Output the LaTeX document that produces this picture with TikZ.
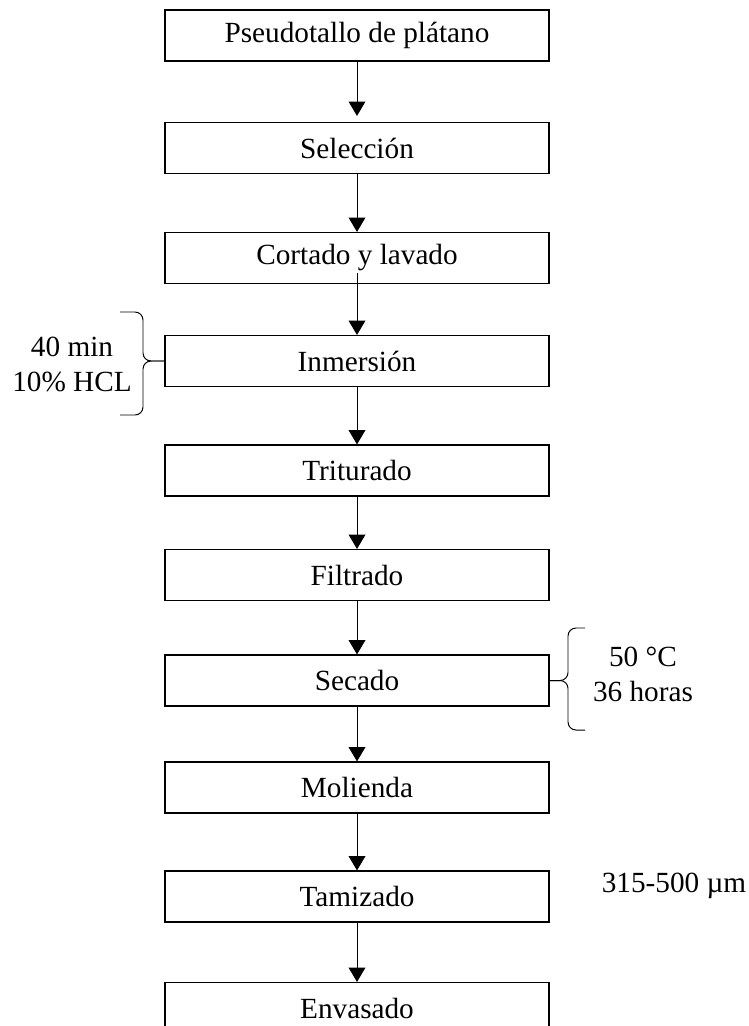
\documentclass[tikz,border=0pt]{standalone}
\usepackage{fontspec}
\setmainfont{Liberation Serif}
\usetikzlibrary{arrows.meta}

\tikzset{
  paso/.style={draw, line width=0.8pt, minimum width=9.6cm, minimum height=1.275cm, inner sep=0pt},
  flecha/.style={line width=0.7pt, -{Triangle[length=0.36cm,width=0.42cm]}},
  llave/.style={line width=0.7pt, rounded corners=0.2cm}
}

\begin{document}
\begin{tikzpicture}[x=0.025cm, y=-0.025cm, font=\fontsize{20.8}{24.9}\selectfont]
    \useasboundingbox (0,0) rectangle (749,1026);
    % etapas del proceso
    \node[paso] (pseudo) at (357,35.5)  {Pseudotallo de plátano};
    \node[paso] (sel)    at (357,148)   {Selección};
    \node[paso] (cort)   at (357,258)   {Cortado y lavado};
    \node[paso] (inm)    at (357,361)   {Inmersión};
    \node[paso] (trit)   at (357,470.5) {Triturado};
    \node[paso] (filt)   at (357,575)   {Filtrado};
    \node[paso] (sec)    at (357,680.5) {Secado};
    \node[paso] (mol)    at (357,787.5) {Molienda};
    \node[paso] (tam)    at (357,896.5) {Tamizado};
    \node[paso] (env)    at (357,1008)  {Envasado};
    % flechas
    \draw[flecha, shorten >=0.15cm] (pseudo) -- (sel);
    \draw[flecha] (sel) -- (cort);
    \draw[flecha] ([yshift=0.275cm]cort.south) -- (inm);
    \draw[flecha] (inm) -- (trit);
    \draw[flecha] (trit) -- (filt);
    \draw[flecha] (filt) -- (sec);
    \draw[flecha] (sec) -- (mol);
    \draw[flecha] (mol) -- (tam);
    \draw[flecha] (tam) -- (env);
    % condiciones
    \coordinate (pinm) at (inm.west);
    \draw[llave] (120,312) -- (143,312) -- (143,|-pinm) -- (pinm);
    \draw[llave] (120,415) -- (143,415) -- (143,|-pinm) -- (pinm);
    \node[align=center] (cinm) at (72,364) {40 min\\10\% HCL};
    \coordinate (psec) at (sec.east);
    \draw[llave] (585,628) -- (568,628) -- (568,|-psec) -- (psec);
    \draw[llave] (585,730) -- (568,730) -- (568,|-psec) -- (psec);
    \node[align=center] (csec) at (643,674) {50 °C\\36 horas};
    \node[anchor=base] (ctam) at (674,892) {315-500 µm};
\end{tikzpicture}
\end{document}
